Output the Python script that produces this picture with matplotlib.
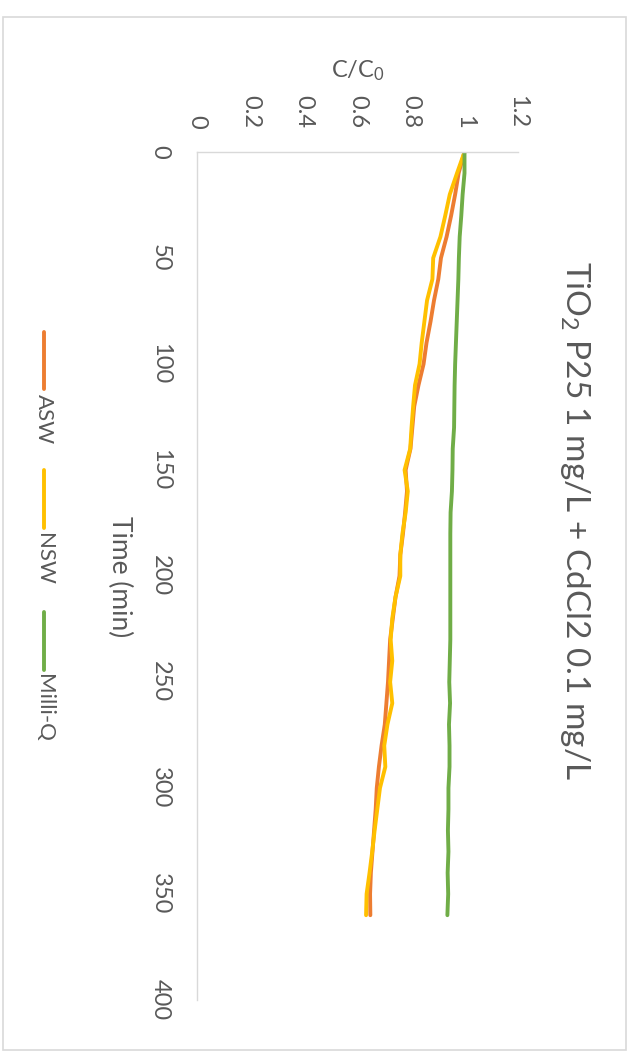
import matplotlib
matplotlib.use("Agg")
import matplotlib.pyplot as plt
from matplotlib.lines import Line2D
from matplotlib.patches import Rectangle

plt.rcParams['font.family'] = ['Lato', 'DejaVu Sans']
plt.rcParams['mathtext.fontset'] = 'custom'
plt.rcParams['mathtext.rm'] = 'Lato'
plt.rcParams['mathtext.it'] = 'Lato'

# ---- data ----
time_min = [0, 10, 20, 30, 40, 50, 60, 70, 80, 90, 100, 110, 120, 130, 140, 150,
            160, 170, 180, 190, 200, 210, 220, 230, 240, 250, 260, 270, 280, 290,
            300, 310, 320, 330, 340, 350, 360]
asw = [1.000, 0.978, 0.965, 0.950, 0.933, 0.912, 0.902, 0.886, 0.873, 0.858,
       0.847, 0.828, 0.812, 0.805, 0.798, 0.780, 0.785, 0.778, 0.770, 0.760,
       0.757, 0.742, 0.732, 0.722, 0.718, 0.714, 0.708, 0.702, 0.690, 0.680,
       0.672, 0.668, 0.662, 0.656, 0.650, 0.647, 0.648]
nsw = [1.000, 0.972, 0.945, 0.928, 0.910, 0.883, 0.880, 0.860, 0.850, 0.840,
       0.832, 0.815, 0.808, 0.802, 0.797, 0.776, 0.788, 0.780, 0.768, 0.760,
       0.760, 0.742, 0.730, 0.724, 0.730, 0.722, 0.730, 0.712, 0.700, 0.704,
       0.684, 0.674, 0.664, 0.655, 0.645, 0.634, 0.632]
milliq = [1.000, 1.000, 0.993, 0.988, 0.982, 0.979, 0.977, 0.974, 0.971, 0.968,
          0.965, 0.963, 0.962, 0.961, 0.956, 0.955, 0.953, 0.948, 0.947, 0.947,
          0.947, 0.947, 0.947, 0.947, 0.945, 0.943, 0.946, 0.942, 0.944, 0.944,
          0.940, 0.940, 0.938, 0.940, 0.937, 0.939, 0.936]
series_names = ['ASW', 'NSW', 'Milli-Q']
series_colors = ['#ED7D31', '#FFC000', '#70AD47']
c_ticks = [0, 0.2, 0.4, 0.6, 0.8, 1, 1.2]
c_ticklabels = ['0', '0.2', '0.4', '0.6', '0.8', '1', '1.2']
t_ticks = [0, 50, 100, 150, 200, 250, 300, 350, 400]
t_ticklabels = ['0', '50', '100', '150', '200', '250', '300', '350', '400']
title = 'TiO$_2$ P25 1 mg/L + CdCl2 0.1 mg/L'

W, H = 632, 1057
fig = plt.figure(figsize=(W / 100, H / 100), dpi=100)
fig.patch.set_facecolor('white')

def fx(px):
    return px / W

def fy(py):
    return 1 - py / H

text_color = '#595959'
grid_color = '#D9D9D9'

# outer border
fig.patches.append(Rectangle((fx(3), fy(1050)), fx(626) - fx(3), fy(17) - fy(1050),
                             transform=fig.transFigure, fill=False,
                             edgecolor=grid_color, linewidth=1.2))

# axes: horizontal = C/C0, vertical = time (downwards)
x0, x1 = 197, 518
y0, y1 = 152, 1000
ax = fig.add_axes([fx(x0), fy(y1), fx(x1) - fx(x0), fy(y0) - fy(y1)])
ax.set_xlim(0, 1.2)
ax.set_ylim(400, 0)

for data, name, col in zip([asw, nsw, milliq], series_names, series_colors):
    ax.plot(data, time_min, color=col, linewidth=2.8, solid_capstyle='round',
            solid_joinstyle='round', label=name)

for s in ['right', 'bottom']:
    ax.spines[s].set_visible(False)
for s in ['left', 'top']:
    ax.spines[s].set_color(grid_color)
    ax.spines[s].set_linewidth(1.0)

ax.xaxis.tick_top()
ax.set_xticks(c_ticks)
ax.set_xticklabels(c_ticklabels, rotation=270, fontsize=17, color=text_color)
ax.set_yticks(t_ticks)
ax.set_yticklabels(t_ticklabels, rotation=270, fontsize=17, color=text_color,
                   va='center')
ax.tick_params(axis='x', length=0, pad=17)
ax.tick_params(axis='y', length=0, pad=19)

# axis titles
fig.text(fx(358), fy(71), r'C/C$_\mathrm{0}$', fontsize=17, color=text_color,
         ha='center', va='center')
fig.text(fx(120), fy(577), 'Time (min)', fontsize=19, color=text_color,
         rotation=270, ha='center', va='center')

# chart title
fig.text(fx(575), fy(521), title, fontsize=24, color=text_color,
         rotation=270, ha='center', va='center')

# legend (manual, rotated)
leg_x = 44
leg_items = [(332, 389, 394), (470, 528, 533), (612, 670, 674)]
for (ya, yb, yt), name, col in zip(leg_items, series_names, series_colors):
    fig.add_artist(Line2D([fx(leg_x), fx(leg_x)], [fy(ya), fy(yb)],
                          transform=fig.transFigure, color=col, linewidth=2.8,
                          solid_capstyle='round'))
    fig.text(fx(leg_x), fy(yt), name, fontsize=16, color=text_color,
             rotation=270, ha='center', va='top')

fig.savefig('out.png', dpi=100, facecolor='white')
